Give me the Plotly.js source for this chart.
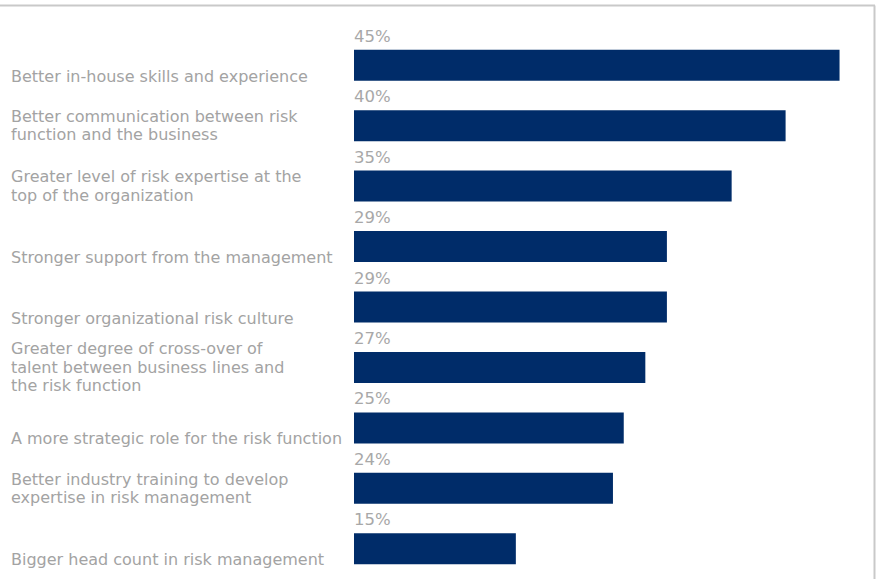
<!DOCTYPE html>
<html>
<head>
<meta charset="utf-8">
<script src="https://cdn.plot.ly/plotly-3.0.1.min.js"></script>
<style>
html,body{margin:0;padding:0;background:#fff;}
#chart{width:879px;height:579px;}
</style>
</head>
<body>
<div id="chart"></div>
<script>
var categories = [
  "Better in-house skills and experience",
  "Better communication between risk<br>function and the business",
  "Greater level of risk expertise at the<br>top of the organization",
  "Stronger support from the management",
  "Stronger organizational risk culture",
  "Greater degree of cross-over of<br>talent between business lines and<br>the risk function",
  "A more strategic role for the risk function",
  "Better industry training to develop<br>expertise in risk management",
  "Bigger head count in risk management"
];
var values = [45, 40, 35, 29, 29, 27, 25, 24, 15];
var valueLabels = ["45%", "40%", "35%", "29%", "29%", "27%", "25%", "24%", "15%"];

var W = 879, H = 579;
var mL = 354, mR = 9, mT = 35, mB = 0;
var plotW = W - mL - mR, plotH = H - mT - mB;
var pxPerUnit = 10.79;
var xMax = plotW / pxPerUnit;

var idx = categories.map(function(_, i){ return i; });

var trace = {
  type: 'bar',
  orientation: 'h',
  x: values,
  y: idx,
  marker: {color: '#002c69', line: {width: 0}},
  hoverinfo: 'skip',
  showlegend: false
};

var labelFont = {family: 'DejaVu Sans, sans-serif', size: 16, color: '#a3a3a3'};
var pctFont = {family: 'DejaVu Sans, sans-serif', size: 16.5, color: '#a8a8a8'};
var lineGap = 18.5;

var annotations = [];
categories.forEach(function(cat, i){
  var lines = cat.split('<br>');
  var n = lines.length;
  lines.forEach(function(line, k){
    var shift = -(k - (n - 1) / 2) * lineGap;
    if (n === 1) shift -= 11;
    annotations.push({
      xref: 'paper', yref: 'y', x: 0, y: i,
      xanchor: 'left', yanchor: 'middle',
      xshift: -345, yshift: shift,
      text: line, showarrow: false, align: 'left',
      font: labelFont
    });
  });
  annotations.push({
    xref: 'x', yref: 'y', x: 0, y: i,
    xanchor: 'left', yanchor: 'middle',
    xshift: -2, yshift: 29,
    text: valueLabels[i], showarrow: false, align: 'left',
    font: pctFont
  });
});

function px2paperX(p){ return (p - mL) / plotW; }
function px2paperY(p){ return 1 - (p - mT) / plotH; }

var shapes = [
  {type: 'line', xref: 'paper', yref: 'paper',
   x0: px2paperX(0), x1: px2paperX(875), y0: px2paperY(5.5), y1: px2paperY(5.5),
   line: {color: '#c9c9c9', width: 2}},
  {type: 'line', xref: 'paper', yref: 'paper',
   x0: px2paperX(874.5), x1: px2paperX(874.5), y0: px2paperY(5.5), y1: px2paperY(580),
   line: {color: '#c9c9c9', width: 2}}
];

var layout = {
  width: W, height: H,
  margin: {l: mL, r: mR, t: mT, b: mB, pad: 0},
  paper_bgcolor: '#ffffff', plot_bgcolor: '#ffffff',
  bargap: 0.487,
  xaxis: {range: [0, xMax], visible: false, showgrid: false, zeroline: false, fixedrange: true},
  yaxis: {range: [categories.length - 0.5, -0.5], visible: false, showgrid: false, zeroline: false, fixedrange: true},
  annotations: annotations,
  shapes: shapes,
  showlegend: false
};

Plotly.newPlot('chart', [trace], layout, {displayModeBar: false, staticPlot: true});
</script>
</body>
</html>
